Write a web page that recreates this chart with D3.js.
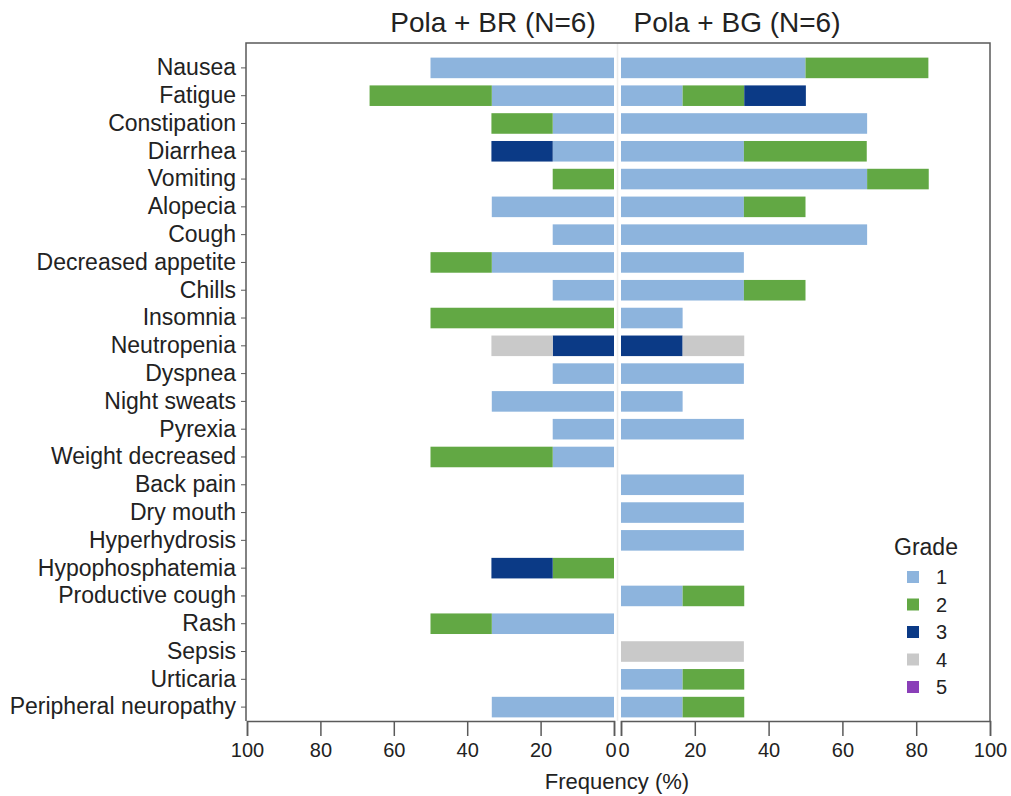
<!DOCTYPE html>
<html>
<head>
<meta charset="utf-8">
<script src="https://cdn.jsdelivr.net/npm/d3@7"></script>
<style>
  body { margin: 0; background: #fff; }
  svg text { font-family: "Liberation Sans", Arial, sans-serif; fill: #222; }
</style>
</head>
<body>
<svg id="chart" width="1011" height="796"></svg>
<script>
const events = ["Nausea", "Fatigue", "Constipation", "Diarrhea", "Vomiting", "Alopecia", "Cough",
  "Decreased appetite", "Chills", "Insomnia", "Neutropenia", "Dyspnea", "Night sweats", "Pyrexia",
  "Weight decreased", "Back pain", "Dry mouth", "Hyperhydrosis", "Hypophosphatemia",
  "Productive cough", "Rash", "Sepsis", "Urticaria", "Peripheral neuropathy"];

const grades = ["1", "2", "3", "4", "5"];
const gradeColors = ["#8db4dd", "#62a844", "#0b3a86", "#c9c9c9", "#8a3fb8"];

// frequency (%) per grade, one value per event (N=6, so steps of 16.7)
const brGrade1 = [50, 33.3, 16.7, 16.7, 0, 33.3, 16.7, 33.3, 16.7, 0, 0, 16.7, 33.3, 16.7, 16.7, 0, 0, 0, 0, 0, 33.3, 0, 0, 33.3];
const brGrade2 = [0, 33.3, 16.7, 0, 16.7, 0, 0, 16.7, 0, 50, 0, 0, 0, 0, 33.3, 0, 0, 0, 16.7, 0, 16.7, 0, 0, 0];
const brGrade3 = [0, 0, 0, 16.7, 0, 0, 0, 0, 0, 0, 16.7, 0, 0, 0, 0, 0, 0, 0, 16.7, 0, 0, 0, 0, 0];
const brGrade4 = [0, 0, 0, 0, 0, 0, 0, 0, 0, 0, 16.7, 0, 0, 0, 0, 0, 0, 0, 0, 0, 0, 0, 0, 0];
const brGrade5 = [0, 0, 0, 0, 0, 0, 0, 0, 0, 0, 0, 0, 0, 0, 0, 0, 0, 0, 0, 0, 0, 0, 0, 0];

const bgGrade1 = [50, 16.7, 66.7, 33.3, 66.7, 33.3, 66.7, 33.3, 33.3, 16.7, 0, 33.3, 16.7, 33.3, 0, 33.3, 33.3, 33.3, 0, 16.7, 0, 0, 16.7, 16.7];
const bgGrade2 = [33.3, 16.7, 0, 33.3, 16.7, 16.7, 0, 0, 16.7, 0, 0, 0, 0, 0, 0, 0, 0, 0, 0, 16.7, 0, 0, 16.7, 16.7];
const bgGrade3 = [0, 16.7, 0, 0, 0, 0, 0, 0, 0, 0, 16.7, 0, 0, 0, 0, 0, 0, 0, 0, 0, 0, 0, 0, 0];
const bgGrade4 = [0, 0, 0, 0, 0, 0, 0, 0, 0, 0, 16.7, 0, 0, 0, 0, 0, 0, 0, 0, 0, 0, 33.3, 0, 0];
const bgGrade5 = [0, 0, 0, 0, 0, 0, 0, 0, 0, 0, 0, 0, 0, 0, 0, 0, 0, 0, 0, 0, 0, 0, 0, 0];

const xTicks = [0, 20, 40, 60, 80, 100];

const svg = d3.select("#chart");
const frameTop = 43, frameBottom = 721, frameLeft = 246, frameRight = 990;

const y = d3.scaleBand().domain(events).range([54, 721]).paddingInner(0.26).paddingOuter(0.13);
const xL = d3.scaleLinear().domain([0, 100]).range([614, 247]);
const xR = d3.scaleLinear().domain([0, 100]).range([621, 990]);
const color = d3.scaleOrdinal().domain(grades).range(gradeColors);

function stackRows(series) {
  const rows = events.map(function(e, i) {
    const r = { event: e };
    grades.forEach(function(g, k) { r[g] = series[k][i]; });
    return r;
  });
  return d3.stack().keys(grades)(rows);
}

function drawPanel(series, x) {
  const layers = stackRows(series);
  svg.append("g").selectAll("g")
    .data(layers)
    .enter().append("g")
    .attr("fill", function(d) { return color(d.key); })
    .selectAll("rect")
    .data(function(d) { return d.filter(function(p) { return p[1] - p[0] > 0; }); })
    .enter().append("rect")
    .attr("x", function(d) { return Math.min(x(d[0]), x(d[1])); })
    .attr("width", function(d) { return Math.abs(x(d[1]) - x(d[0])); })
    .attr("y", function(d) { return y(d.data.event); })
    .attr("height", y.bandwidth());
}

drawPanel([brGrade1, brGrade2, brGrade3, brGrade4, brGrade5], xL);
drawPanel([bgGrade1, bgGrade2, bgGrade3, bgGrade4, bgGrade5], xR);

// pale divider between the two panels
svg.append("line")
  .attr("x1", 617.5).attr("x2", 617.5)
  .attr("y1", frameTop).attr("y2", frameBottom)
  .attr("stroke", "#ececec").attr("stroke-width", 1.5);

// frame (left, top, right)
svg.append("path")
  .attr("d", `M${frameLeft},${frameBottom} V${frameTop} H${frameRight} V${frameBottom}`)
  .attr("fill", "none").attr("stroke", "#5a5a5a").attr("stroke-width", 1.5);

// y axis
const yAxis = svg.append("g")
  .attr("transform", `translate(${frameLeft},0)`)
  .call(d3.axisLeft(y).tickSize(5).tickPadding(5));
yAxis.select(".domain").remove();
yAxis.selectAll("line").attr("stroke", "#5a5a5a");
yAxis.selectAll("text").style("font-size", "23px").attr("fill", "#222");

// x axes
function drawX(x, zeroAnchor, zeroShift) {
  const g = svg.append("g")
    .attr("transform", `translate(0,${frameBottom})`)
    .call(d3.axisBottom(x).tickValues(xTicks).tickSize(15).tickPadding(7));
  g.select(".domain").attr("stroke", "#5a5a5a").attr("stroke-width", 1.5);
  g.selectAll("line").attr("stroke", "#5a5a5a").attr("stroke-width", 1.5);
  g.selectAll("text").style("font-size", "20px").attr("fill", "#222");
  g.selectAll(".tick").filter(function(d) { return d === 0; })
    .select("text").attr("text-anchor", zeroAnchor).attr("dx", zeroShift);
  return g;
}
drawX(xL, "end", 2);
drawX(xR, "start", -3);

svg.append("text")
  .attr("x", 617).attr("y", 789)
  .attr("text-anchor", "middle")
  .style("font-size", "22px")
  .text("Frequency (%)");

svg.append("text")
  .attr("x", 493).attr("y", 32)
  .attr("text-anchor", "middle")
  .style("font-size", "28px")
  .text("Pola + BR (N=6)");
svg.append("text")
  .attr("x", 737).attr("y", 32)
  .attr("text-anchor", "middle")
  .style("font-size", "28px")
  .text("Pola + BG (N=6)");

// legend
const legend = svg.append("g").attr("transform", "translate(894,0)");
legend.append("text")
  .attr("x", 0).attr("y", 555)
  .style("font-size", "23px")
  .text("Grade");
const items = legend.selectAll("g.item")
  .data(grades)
  .enter().append("g")
  .attr("class", "item")
  .attr("transform", function(d, i) { return `translate(0,${577 + i * 27.5})`; });
items.append("rect")
  .attr("x", 13).attr("y", -6)
  .attr("width", 12).attr("height", 12)
  .attr("fill", function(d) { return color(d); });
items.append("text")
  .attr("x", 42).attr("y", 7)
  .style("font-size", "20px")
  .text(function(d) { return d; });
</script>
</body>
</html>
